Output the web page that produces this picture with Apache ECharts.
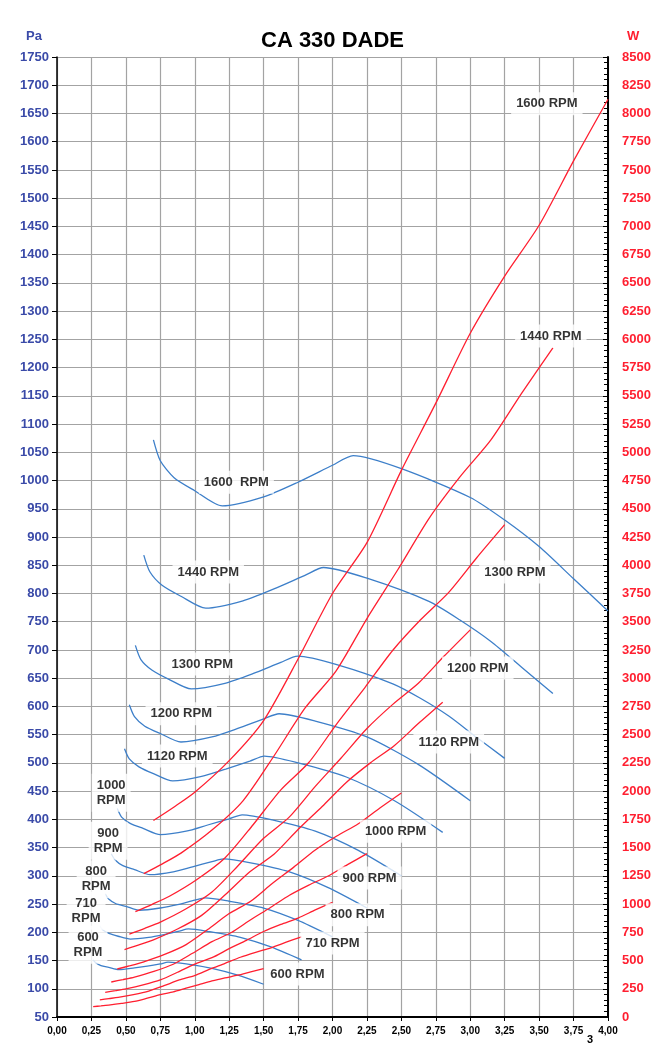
<!DOCTYPE html>
<html>
<head>
<meta charset="utf-8">
<script src="https://cdn.jsdelivr.net/npm/echarts@6/dist/echarts.min.js"></script>
<style>
  html, body { margin: 0; padding: 0; background: #fff; }
  #chart { width: 669px; height: 1045px; }
</style>
</head>
<body>
<div id="chart"></div>
<script>
// pressure curves (Pa): [flow, Pa]
const pa1600 = [[0.70,1072],[0.75,1035],[0.85,1005],[1.00,982],[1.20,955],[1.50,971],[1.75,997],[2.00,1027],[2.15,1044],[2.50,1021],[3.00,970],[3.25,930],[3.50,883],[3.75,826],[4.00,769]]
const pa1440 = [[0.63,868],[0.675,838],[0.765,814],[0.90,795],[1.08,774],[1.35,787],[1.575,808],[1.80,832],[1.935,846],[2.25,827],[2.70,786],[2.925,753],[3.15,715],[3.375,669],[3.60,623]]
const pa1300 = [[0.569,708],[0.609,683],[0.691,664],[0.8125,648],[0.975,631],[1.219,641],[1.422,658],[1.625,678],[1.747,689],[2.031,674],[2.438,640],[2.641,614],[2.844,583],[3.047,545],[3.25,508]]
const pa1200 = [[0.525,603],[0.5625,582],[0.6375,565],[0.75,552],[0.90,537],[1.125,546],[1.3125,561],[1.50,578],[1.6125,587],[1.875,574],[2.25,546],[2.625,497],[3.00,433]]
const pa1120 = [[0.49,525],[0.525,507],[0.595,493],[0.70,481],[0.84,468],[1.05,476],[1.225,489],[1.40,503],[1.505,512],[1.75,500],[2.10,475],[2.45,433],[2.80,377]]
const pa1000 = [[0.4375,419],[0.469,404],[0.531,393],[0.625,384],[0.75,373],[0.9375,379],[1.094,390],[1.25,401],[1.344,408],[1.5625,399],[1.875,379],[2.1875,345],[2.50,300]]
const pa900 = [[0.394,339],[0.422,328],[0.478,318],[0.5625,311],[0.675,302],[0.844,307],[0.984,316],[1.125,325],[1.209,330],[1.406,323],[1.6875,307],[1.969,279],[2.25,243]]
const pa800 = [[0.35,268],[0.375,259],[0.425,251],[0.50,246],[0.60,239],[0.75,243],[0.875,249],[1.00,257],[1.075,261],[1.25,255],[1.50,243],[1.75,221],[2.00,192]]
const pa710 = [[0.311,211],[0.333,204],[0.377,198],[0.444,193],[0.533,188],[0.666,191],[0.777,196],[0.888,202],[0.954,206],[1.109,201],[1.331,191],[1.553,174],[1.775,151]]
const pa600 = [[0.2625,151],[0.281,146],[0.319,141],[0.375,138],[0.45,134],[0.5625,137],[0.656,140],[0.75,144],[0.806,147],[0.9375,144],[1.125,136],[1.3125,124],[1.50,108]]

// power curves (W): [flow, W]
const w1600 = [[0.70,1740],[0.85,1860],[1.00,1990],[1.25,2270],[1.50,2625],[1.75,3170],[2.00,3750],[2.25,4200],[2.50,4840],[2.75,5435],[3.00,6054],[3.25,6560],[3.50,7010],[3.75,7580],[4.00,8126]]
const w1440 = [[0.63,1269],[0.765,1356],[0.90,1451],[1.125,1655],[1.35,1914],[1.575,2311],[1.80,2734],[2.025,3062],[2.25,3528],[2.475,3962],[2.70,4413],[2.925,4782],[3.15,5110],[3.375,5526],[3.60,5924]]
const w1300 = [[0.569,933],[0.691,998],[0.8125,1067],[1.016,1218],[1.219,1408],[1.422,1700],[1.625,2011],[1.828,2253],[2.031,2596],[2.234,2915],[2.438,3247],[2.641,3519],[2.844,3760],[3.047,4066],[3.25,4359]]
const w1200 = [[0.525,734],[0.6375,785],[0.75,840],[0.9375,958],[1.125,1107],[1.3125,1337],[1.50,1582],[1.6875,1772],[1.875,2042],[2.0625,2293],[2.25,2554],[2.4375,2768],[2.625,2957],[2.8125,3198],[3.00,3428]]
const w1120 = [[0.49,597],[0.595,638],[0.70,683],[0.875,779],[1.05,900],[1.225,1087],[1.40,1286],[1.575,1441],[1.75,1660],[1.925,1864],[2.10,2077],[2.275,2250],[2.45,2404],[2.625,2600],[2.80,2787]]
const w1000 = [[0.4375,425],[0.531,454],[0.625,486],[0.781,554],[0.9375,641],[1.094,774],[1.25,916],[1.406,1025],[1.5625,1182],[1.719,1327],[1.875,1478],[2.031,1602],[2.1875,1711],[2.344,1851],[2.50,1984]]
const w900 = [[0.394,310],[0.478,331],[0.5625,354],[0.703,404],[0.844,467],[0.984,564],[1.125,667],[1.266,748],[1.406,861],[1.547,967],[1.6875,1078],[1.828,1168],[1.969,1248],[2.109,1349],[2.25,1446]]
const w800 = [[0.35,218],[0.425,233],[0.50,249],[0.625,284],[0.75,328],[0.875,396],[1.00,469],[1.125,525],[1.25,605],[1.375,679],[1.50,757],[1.625,820],[1.75,876],[1.875,948],[2.00,1016]]
const w710 = [[0.311,152],[0.377,163],[0.444,174],[0.555,198],[0.666,229],[0.777,277],[0.888,328],[0.998,367],[1.109,423],[1.22,475],[1.331,529],[1.442,573],[1.553,613],[1.664,662],[1.775,710]]
const w600 = [[0.2625,92],[0.319,98],[0.375,105],[0.469,120],[0.5625,138],[0.656,167],[0.75,198],[0.844,222],[0.9375,255],[1.031,287],[1.125,319],[1.219,346],[1.3125,370],[1.406,400],[1.50,429]]

const paCurves = [pa1600, pa1440, pa1300, pa1200, pa1120, pa1000, pa900, pa800, pa710, pa600]
const wCurves = [w1600, w1440, w1300, w1200, w1120, w1000, w900, w800, w710, w600]

// curve labels, anchored in chart units [flow, Pa]
const paLabels = ['1600  RPM', '1440 RPM', '1300 RPM', '1200 RPM', '1120 RPM', '1000\nRPM', '900\nRPM', '800\nRPM', '710\nRPM', '600\nRPM']
const paLabelAt = [[1.302,997],[1.098,838],[1.055,675],[0.902,587],[0.873,512],[0.393,447],[0.371,362],[0.284,294],[0.211,238],[0.225,178]]
const wLabels = ['1600 RPM', '1440 RPM', '1300 RPM', '1200 RPM', '1120 RPM', '1000 RPM', '900 RPM', '800 RPM', '710 RPM', '600 RPM']
const wLabelAt = [[3.556,1667],[3.585,1256],[3.324,838],[3.055,668],[2.844,537],[2.458,379],[2.269,296],[2.182,231],[2.0,181],[1.745,126]]

const BLUE = '#3d7fc9'
const RED = '#ff1f30'
const FONT = '"Liberation Sans", Arial, sans-serif'

const chart = echarts.init(document.getElementById('chart'), null, { renderer: 'canvas' })

const series = []
paCurves.forEach(d => {
  series.push({
    type: 'line', xAxisIndex: 0, yAxisIndex: 0, data: d,
    showSymbol: false, smooth: 0.25, silent: true,
    lineStyle: { color: BLUE, width: 1.3 }, z: 3
  })
})
wCurves.forEach(d => {
  series.push({
    type: 'line', xAxisIndex: 0, yAxisIndex: 1, data: d,
    showSymbol: false, smooth: 0.25, silent: true,
    lineStyle: { color: RED, width: 1.3 }, z: 4
  })
})

const labelStyle = {
  show: true, position: 'inside', formatter: p => p.name,
  fontFamily: FONT, fontWeight: 'bold', fontSize: 13, color: '#000',
  backgroundColor: '#fff', padding: [4, 5], lineHeight: 15, align: 'center'
}
series.push({
  type: 'scatter', yAxisIndex: 0, symbolSize: 1, silent: true, z: 10,
  itemStyle: { color: 'rgba(0,0,0,0)' },
  label: labelStyle,
  data: paLabels.map((n, i) => ({ name: n, value: paLabelAt[i] }))
    .concat(wLabels.map((n, i) => ({ name: n, value: wLabelAt[i] })))
})

const option = {
  animation: false,
  backgroundColor: '#fff',
  title: {
    text: 'CA 330 DADE', left: 256, top: 25,
    textStyle: { fontFamily: FONT, fontWeight: 'bold', fontSize: 22, color: '#000' }
  },
  graphic: [
    { type: 'text', left: 26, top: 30, style: { text: 'Pa', fontFamily: FONT, fontWeight: 'bold', fontSize: 13, fill: '#3a4aa8' } },
    { type: 'text', left: 627, top: 30, style: { text: 'W', fontFamily: FONT, fontWeight: 'bold', fontSize: 13, fill: RED } },
    { type: 'text', left: 587, top: 1034, style: { text: '3', fontFamily: FONT, fontWeight: 'bold', fontSize: 11, fill: '#000' } }
  ],
  grid: { left: 57, right: 61, top: 57, bottom: 28 },
  xAxis: {
    type: 'value', min: 0, max: 4, interval: 0.25,
    axisLine: { lineStyle: { color: '#000', width: 2 } },
    axisTick: { length: 4, lineStyle: { color: '#000' } },
    axisLabel: {
      margin: 9, fontFamily: FONT, fontWeight: 'bold', fontSize: 10, color: '#000',
      formatter: v => v.toFixed(2).replace('.', ',')
    },
    splitLine: { show: true, lineStyle: { color: '#a3a3a3', width: 1.2 } }
  },
  yAxis: [{
    type: 'value', position: 'left', min: 50, max: 1750, interval: 50,
    axisLine: { show: true, lineStyle: { color: '#000', width: 1.5 } },
    axisTick: { show: true, length: 5, lineStyle: { color: '#000' } },
    axisLabel: { margin: 8, fontFamily: FONT, fontWeight: 'bold', fontSize: 13, color: '#3a4aa8', formatter: v => String(v) },
    splitLine: { show: true, lineStyle: { color: '#a3a3a3', width: 1.2 } }
  }, {
    type: 'value', position: 'right', min: 0, max: 8500, interval: 250,
    axisLine: { show: true, lineStyle: { color: '#000', width: 2 } },
    axisTick: { show: true, inside: true, length: 5, lineStyle: { color: '#000' } },
    minorTick: { show: true, splitNumber: 5, length: 4, lineStyle: { color: '#000' } },
    axisLabel: { margin: 14, fontFamily: FONT, fontWeight: 'bold', fontSize: 13, color: RED, formatter: v => String(v) },
    splitLine: { show: false }
  }],
  series: series
}

chart.setOption(option)
</script>
</body>
</html>
